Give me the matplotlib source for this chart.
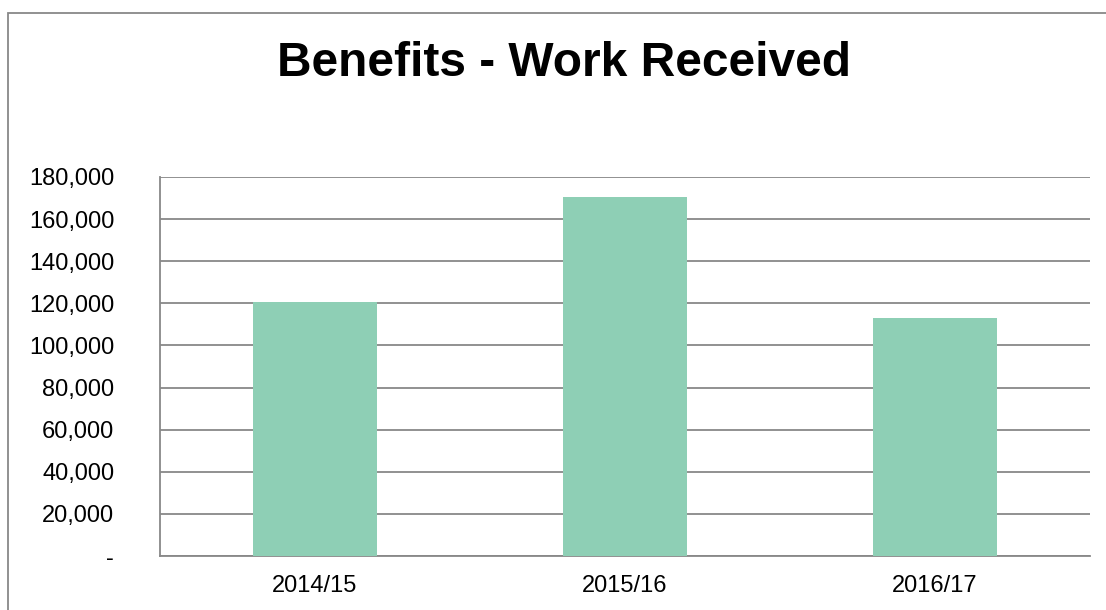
import matplotlib.pyplot as plt
from matplotlib.patches import Rectangle
from matplotlib.ticker import FuncFormatter

years = ["2014/15", "2015/16", "2016/17"]
work_received = [120600, 170300, 112800]
y_ticks = list(range(0, 180001, 20000))

plt.rcParams["font.family"] = ["Liberation Sans", "DejaVu Sans"]

fig = plt.figure(figsize=(11.06, 6.10), dpi=100)
ax = fig.add_axes([160 / 1106, 1 - 556 / 610, 930 / 1106, 379 / 610])

# outer chart frame, running off the right and bottom edges
fig.patches.append(Rectangle((8 / 1106, -0.1), 1.2, 1 - 13.5 / 610 + 0.1,
                             transform=fig.transFigure, fill=False,
                             edgecolor="#888888", linewidth=1.3))

x = range(len(years))
ax.bar(x, work_received, width=0.4, color="#8ECFB5", zorder=3)

ax.set_xlim(-0.5, 2.5)
ax.set_ylim(0, 180000)
ax.set_yticks(y_ticks)
ax.yaxis.set_major_formatter(FuncFormatter(lambda v, _: "-" if v == 0 else f"{v:,.0f}"))
ax.set_xticks(list(x))
ax.set_xticklabels(years)
ax.tick_params(axis="both", length=0, labelsize=17, colors="black")
ax.tick_params(axis="y", pad=33)
ax.tick_params(axis="x", pad=14)

ax.grid(axis="y", color="#888888", linewidth=1.3, zorder=0)
for side in ("top", "right"):
    ax.spines[side].set_visible(False)
for side in ("left", "bottom"):
    ax.spines[side].set_color("#888888")
    ax.spines[side].set_linewidth(1.3)

fig.text(564 / 1106, 1 - 64 / 610, "Benefits - Work Received", ha="center", va="center",
         fontsize=34.5, fontweight="bold")

fig.savefig("out.png", dpi=100)
